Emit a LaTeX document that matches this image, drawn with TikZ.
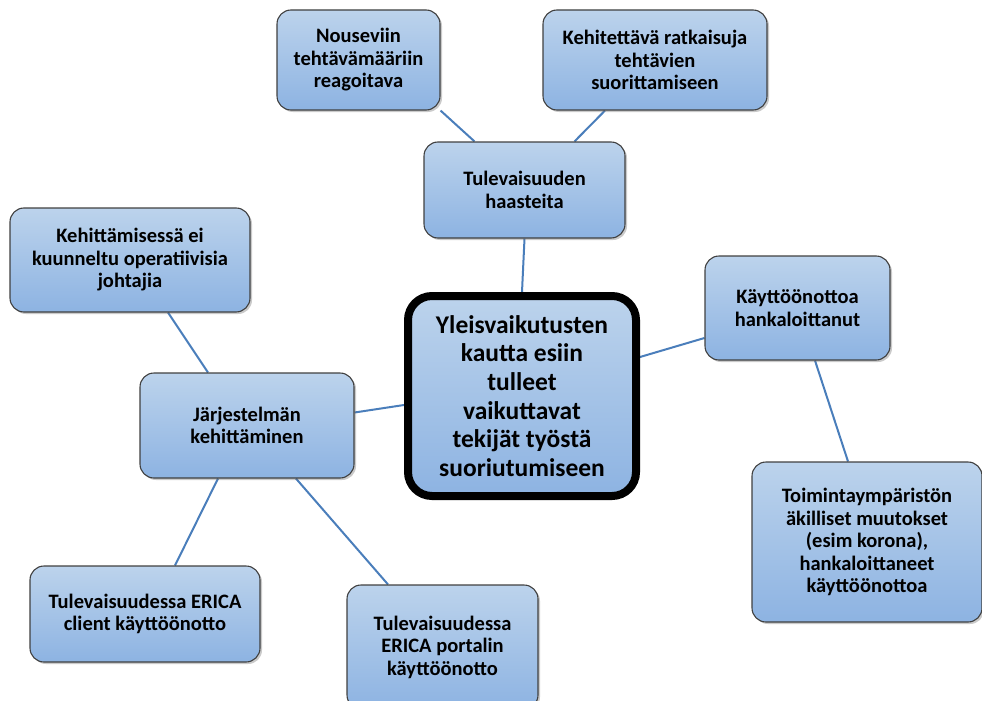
\documentclass[tikz,border=0pt]{standalone}
\usepackage{fontspec}
\setmainfont{Carlito}
\usetikzlibrary{calc,shadows,backgrounds}
\definecolor{boxtop}{HTML}{BCD3EC}
\definecolor{boxbot}{HTML}{8DB3E2}
\definecolor{boxline}{HTML}{404040}
\definecolor{conn}{HTML}{4A7EBB}
\tikzset{
  box/.style={rectangle, rounded corners=14pt, draw=boxline, line width=1.1pt,
    top color=boxtop, bottom color=boxbot, align=center, inner sep=2pt,
    font=\fontsize{20.5}{22.5}\selectfont\bfseries,
    drop shadow={shadow xshift=2pt, shadow yshift=-2pt, opacity=0.35, fill=black!60}},
  centralbox/.style={rectangle, rounded corners=24pt, draw=black, line width=8pt,
    top color=boxtop, bottom color=boxbot, align=center, inner sep=2pt,
    font=\fontsize{25.5}{28.6}\selectfont\bfseries},
  link/.style={draw=conn, line width=2pt}
}
\begin{document}
\begin{tikzpicture}[x=1pt,y=-1pt]
\useasboundingbox (0,0) rectangle (982,701);
\node[box, minimum width=163pt, minimum height=100pt] (n1) at (358.5,60) {Nouseviin\\tehtävämääriin\\reagoitava};
\node[box, minimum width=224pt, minimum height=100pt] (n2) at (655,60) {Kehitettävä ratkaisuja\\tehtävien\\suorittamiseen};
\node[box, minimum width=201pt, minimum height=96pt] (n3) at (524.5,190) {Tulevaisuuden\\haasteita};
\node[box, minimum width=240pt, minimum height=104pt] (n4) at (130,260) {Kehittämisessä ei\\kuunneltu operatiivisia\\johtajia};
\node[box, minimum width=185pt, minimum height=104pt] (n5) at (797.5,308) {Käyttöönottoa\\hankaloittanut};
\node[centralbox, minimum width=228pt, minimum height=200pt] (c) at (522,396) {Yleisvaikutusten\\kautta esiin\\tulleet\\vaikuttavat\\tekijät työstä\\suoriutumiseen};
\node[box, minimum width=214pt, minimum height=105pt] (n6) at (247,425.5) {Järjestelmän\\kehittäminen};
\node[box, minimum width=230pt, minimum height=160pt] (n7) at (867,542) {Toimintaympäristön\\äkilliset muutokset\\(esim korona),\\hankaloittaneet\\käyttöönottoa};
\node[box, minimum width=230pt, minimum height=96pt] (n8) at (145,614) {Tulevaisuudessa ERICA\\client käyttöönotto};
\node[box, minimum width=191pt, minimum height=124pt] (n9) at (442.5,647) {Tulevaisuudessa\\ERICA portalin\\käyttöönotto};
\begin{pgfonlayer}{background}
\draw[link] (n1.south east) -- ($(n3.north)+(-50,0)$);
\draw[link] ($(n2.south)+(-50,0)$) -- ($(n3.north)+(50,0)$);
\draw[link] (n3.south) -- (c.north);
\draw[link] ($(n4.south)+(38,0)$) -- ($(n6.north)+(-39,0)$);
\draw[link] ($(n6.east)+(0,-13)$) -- ($(c.west)+(0,9)$);
\draw[link] ($(n5.west)+(0,30)$) -- ($(c.east)+(0,-39)$);
\draw[link] ($(n5.south)+(17.5,0)$) -- ($(n7.north)+(-19,0)$);
\draw[link] ($(n6.south)+(-29,0)$) -- ($(n8.north)+(30,0)$);
\draw[link] ($(n6.south)+(49,0)$) -- ($(n9.north)+(-54.5,0)$);
\end{pgfonlayer}
\end{tikzpicture}
\end{document}
